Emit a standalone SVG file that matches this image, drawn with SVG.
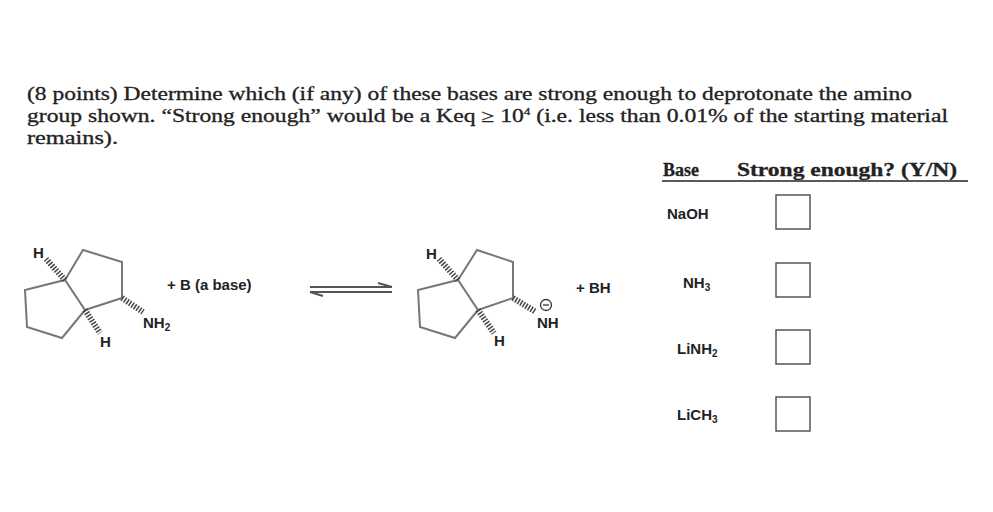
<svg xmlns="http://www.w3.org/2000/svg" width="993" height="512" viewBox="0 0 993 512">
<style>
.t{font-family:"Liberation Serif",serif;font-size:18px;fill:#222;stroke:#222;stroke-width:0.3}
.s{font-family:"Liberation Sans",sans-serif;font-weight:bold;font-size:15px;fill:#222}
.b{fill:none;stroke:#777;stroke-width:2}
.h{stroke:#444;stroke-width:6;stroke-dasharray:1.5 1.5}
.box{fill:#fff;stroke:#555;stroke-width:1.5}
</style>
<rect width="993" height="512" fill="#fff"/>
<g id="question">
<text class="t" x="27" y="100" textLength="885" lengthAdjust="spacingAndGlyphs">(8 points) Determine which (if any) of these bases are strong enough to deprotonate the amino</text>
<text class="t" x="27" y="122" textLength="921" lengthAdjust="spacingAndGlyphs">group shown.  “Strong enough” would be a Keq ≥ 10<tspan font-size="10" dy="-7">4</tspan><tspan dy="7"> (i.e. less than 0.01% of the starting material</tspan></text>
<text class="t" x="27" y="144" textLength="91" lengthAdjust="spacingAndGlyphs">remains).</text>
</g>
<g id="mol1">
<polyline class="b" points="65,280 83,250 122,262 122,298 85,310 65,280 25,290 27,327 62,338 85,310"/>
<line class="h" x1="65" y1="280" x2="46" y2="259"/>
<line class="h" x1="85" y1="310" x2="100" y2="333"/>
<line class="h" x1="122" y1="298" x2="143" y2="312"/>
<text class="s" x="33" y="258">H</text>
<text class="s" x="100" y="347">H</text>
<text class="s" x="143" y="328">NH<tspan font-size="10" dy="3">2</tspan></text>
</g>
<g id="reagent"><text class="s" x="167" y="290">+ B (a base)</text></g>
<g id="connectors">
<line x1="310" y1="287" x2="392" y2="287" stroke="#555" stroke-width="2"/>
<polyline points="378,283 392,287" fill="none" stroke="#555" stroke-width="2"/>
<line x1="310" y1="292" x2="392" y2="292" stroke="#555" stroke-width="2"/>
<polyline points="310,292 323,296" fill="none" stroke="#555" stroke-width="2"/>
</g>
<g id="mol2">
<polyline class="b" points="458,280 477,250 513,262 513,298 478,310 458,280 418,290 420,327 455,338 478,310"/>
<line class="h" x1="458" y1="280" x2="439" y2="259"/>
<line class="h" x1="478" y1="310" x2="494" y2="333"/>
<line class="h" x1="513" y1="298" x2="536" y2="312"/>
<text class="s" x="426" y="259">H</text>
<text class="s" x="494" y="346">H</text>
<text class="s" x="537" y="328">NH</text>
<circle cx="546" cy="305" r="5.5" fill="none" stroke="#333" stroke-width="1.3"/>
<line x1="543" y1="305" x2="549" y2="305" stroke="#333" stroke-width="1.3"/>
</g>
<g id="product2"><text class="s" x="576" y="293">+ BH</text></g>
<g id="table">
<text class="t" x="663" y="176" font-weight="bold">Base</text>
<text class="t" x="737" y="176" font-weight="bold" textLength="220" lengthAdjust="spacingAndGlyphs">Strong enough? (Y/N)</text>
<line x1="662" y1="181" x2="968" y2="181" stroke="#222" stroke-width="1.3"/>
<text class="s" x="667" y="219">NaOH</text>
<text class="s" x="683" y="288">NH<tspan font-size="10" dy="3">3</tspan></text>
<text class="s" x="677" y="354">LiNH<tspan font-size="10" dy="3">2</tspan></text>
<text class="s" x="677" y="420">LiCH<tspan font-size="10" dy="3">3</tspan></text>
<rect class="box" x="776" y="195" width="34" height="34"/>
<rect class="box" x="776" y="263" width="34" height="34"/>
<rect class="box" x="776" y="330" width="34" height="34"/>
<rect class="box" x="776" y="397" width="34" height="34"/>
</g>
</svg>
